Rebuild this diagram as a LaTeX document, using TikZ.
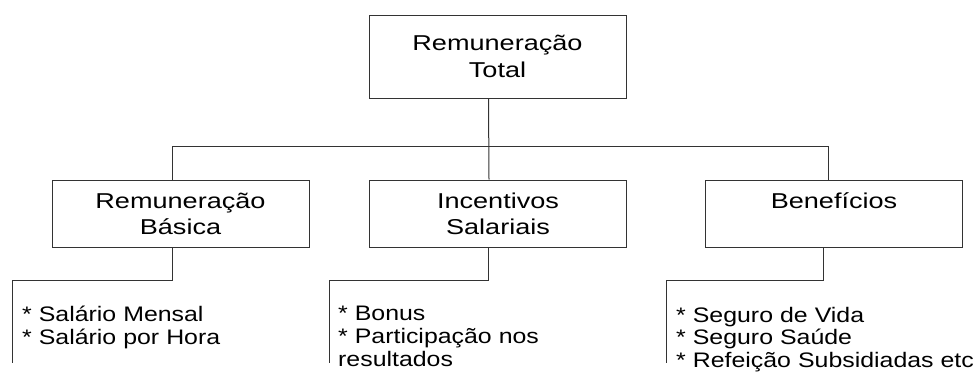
\documentclass[tikz,border=0pt]{standalone}
\usepackage{fontspec}
\setmainfont{Liberation Sans}[FakeStretch=1.185]
\newfontfamily\boxfont{Liberation Sans}[FakeStretch=1.26]
\usetikzlibrary{calc}

\tikzset{
  box/.style={draw=black!80, line width=1pt, minimum width=257pt, align=center, inner sep=0pt,
    font=\boxfont\fontsize{21.5}{23}\selectfont},
  link/.style={draw=black!80, line width=1pt},
  items/.style={anchor=base west, align=left, inner sep=0pt, text width=320pt}
}

\begin{document}
\begin{tikzpicture}[x=1pt,y=-1pt]
     \useasboundingbox (0,0) rectangle (977,372);
     \fontsize{21}{23}\selectfont

     \node[box, minimum height=83pt] (total) at (497.5,56.5) {Remuneração\\[4pt]Total};
     \node[box, minimum height=67pt] (basica) at (180.5,213.5) {Remuneração\\[3pt]Básica};
     \node[box, minimum height=67pt] (incentivos) at (498,213.5) {Incentivos\\[3pt]Salariais};
     \node[box, minimum height=67pt] (beneficios) at (834,213.5) {Benefícios\\[3pt]\phantom{Básica}};

     \coordinate (basicaend) at (12,363);
     \coordinate (incentivosend) at (329,363);
     \coordinate (beneficiosend) at (666,363);

     \draw[link] ([xshift=-9pt]total.south) -- ([xshift=-9pt]incentivos.north);
     \draw[link] ([xshift=-8.5pt]basica.north) -- ++(0,-33) -| ([xshift=-6pt]beneficios.north);

     \draw[link] ([xshift=-8.5pt]basica.south) -- ++(0,33) -| (basicaend);
     \draw[link] ([xshift=-10pt]incentivos.south) -- ++(0,33) -| (incentivosend);
     \draw[link] ([xshift=-11pt]beneficios.south) -- ++(0,33) -| (beneficiosend);

     \node[items] (basicalist) at (22,321) {\fontsize{21}{22}\selectfont * Salário Mensal\\{*} Salário por Hora};
     \node[items] (incentivoslist) at (338,320) {\fontsize{21}{23}\selectfont * Bonus\\{*} Participação nos\\resultados};
     \node[items] (beneficioslist) at (676,322) {\fontsize{21}{22.5}\selectfont * Seguro de Vida\\{*} Seguro Saúde\\{*} Refeição Subsidiadas etc};

  \end{tikzpicture}
\end{document}
